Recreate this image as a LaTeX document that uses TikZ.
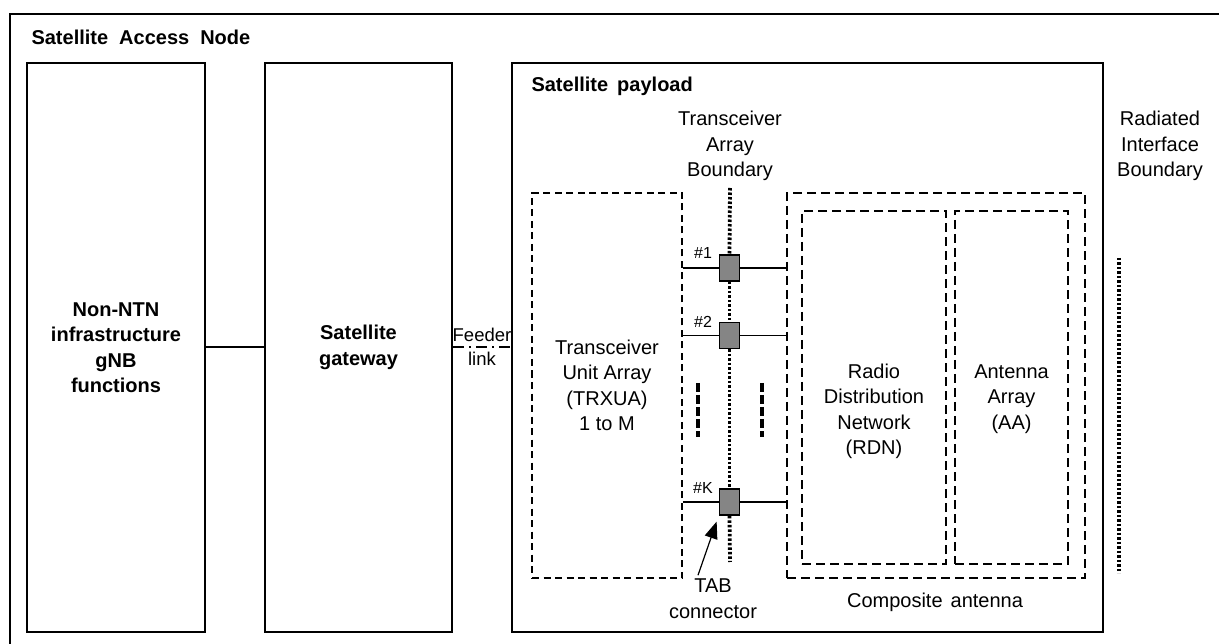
\documentclass[tikz,border=0pt]{standalone}
\usepackage{fontspec}
\setmainfont{Liberation Sans}
\usepackage{xcolor}
\usetikzlibrary{arrows.meta}
\definecolor{tabgray}{HTML}{858585}

\begin{document}
\begin{tikzpicture}[
        font = \fontsize{20}{25.5}\selectfont,
        solidbox/.style = {draw, rectangle, line width = 2pt, align = center, inner sep = 0pt},
        dashbox/.style = {draw, rectangle, line width = 2pt, dash pattern = on 7pt off 4.5pt, align = center, inner sep = 0pt},
        widedash/.style = {draw, rectangle, line width = 2.6pt, dash pattern = on 9pt off 5pt, align = center, inner sep = 0pt},
        tabbox/.style = {fill = tabgray, draw, rectangle, line width = 1.8pt, minimum width = 20pt, minimum height = 26pt, inner sep = 0pt},
        tabline/.style = {line width = 1.8pt},
        boundary/.style = {line width = 3.8pt, dash pattern = on 2.5pt off 2pt},
        gapmark/.style = {line width = 4.5pt, dash pattern = on 9pt off 3pt},
        bold/.style = {font = \fontsize{20}{25.5}\selectfont\bfseries},
        smalltext/.style = {font = \fontsize{16}{18}\selectfont}
    ]

        \useasboundingbox (0pt, 0pt) rectangle (1219pt, -644pt);
        \clip (0pt, 0pt) rectangle (1219pt, -644pt);

        % Satellite Access Node
        \node [solidbox, anchor = north west, minimum width = 1240pt, minimum height = 660pt] (san) at (9pt, -13pt) {};
        \node [bold, anchor = west] (santitle) at (28pt, -37pt) {\spaceskip = 11pt Satellite Access Node};

        \node [solidbox, bold, minimum width = 178pt, minimum height = 569pt] (ntn) at (116pt, -347.5pt) {Non-NTN\\infrastructure\\gNB\\functions};
        \node [solidbox, bold, minimum width = 187pt, minimum height = 569pt] (gw) at (358.5pt, -347.5pt) {Satellite\\gateway};
        \node [solidbox, minimum width = 591pt, minimum height = 569pt] (pay) at (807.5pt, -347.5pt) {};
        \node [bold, anchor = west] (paytitle) at (528pt, -86pt) {\spaceskip = 9pt Satellite payload};

        \draw [line width = 2pt] (ntn) -- (gw);
        \draw [line width = 2pt, dash pattern = on 11pt off 5pt on 2pt off 5pt] (gw) -- (pay)
            node [midway, above = 1pt, font = \fontsize{18.5}{22}\selectfont] (feedtop) {Feeder}
            node [midway, below = 0pt, font = \fontsize{18.5}{22}\selectfont] (feedbot) {link};

        % Payload blocks
        \node [dashbox, minimum width = 150pt, minimum height = 385pt] (trx) at (607pt, -385.5pt) {Transceiver\\Unit Array\\(TRXUA)\\1 to M};
        \node [widedash, minimum width = 298pt, minimum height = 385pt] (comp) at (936pt, -385.5pt) {};
        \node [widedash, minimum width = 144pt, minimum height = 353pt] (rdn) at (874pt, -387.5pt) {};
        \node [widedash, minimum width = 113pt, minimum height = 353pt] (aa) at (1011.5pt, -387.5pt) {};
        \node [align = center] (rdntxt) at ([yshift = -24pt]rdn.center) {Radio\\Distribution\\Network\\(RDN)};
        \node [align = center] (aatxt) at ([yshift = -11.5pt]aa.center) {Antenna\\Array\\(AA)};
        \node (comptxt) at (935pt, -602pt) {\spaceskip = 8pt Composite antenna};

        % Transceiver array boundary
        \node [align = center] (tabtitle) at (730pt, -146pt) {Transceiver\\Array\\Boundary};
        \coordinate (tabtop) at (730pt, -188pt);
        \coordinate (tabbot) at (730pt, -562pt);

        \node [tabbox] (c1) at (729.5pt, -268pt) {};
        \node [tabbox] (c2) at (729.5pt, -335.5pt) {};
        \node [tabbox] (ck) at (729.5pt, -502pt) {};

        \draw [boundary] (tabtop) -- (c1.north);
        \draw [boundary] (c1.south) -- (c2.north);
        \draw [boundary] (c2.south) -- (ck.north);
        \draw [boundary] (ck.south) -- (tabbot);

        \draw [tabline] (trx.east |- c1) -- (c1.west);
        \draw [tabline] (c1.east) -- (comp.west |- c1);
        \draw [tabline] (trx.east |- c2) -- (c2.west);
        \draw [tabline] (c2.east) -- (comp.west |- c2);
        \draw [tabline] (trx.east |- ck) -- (ck.west);
        \draw [tabline] (ck.east) -- (comp.west |- ck);

        \node [smalltext] (l1) at (703pt, -253pt) {\#1};
        \node [smalltext] (l2) at (703pt, -322pt) {\#2};
        \node [smalltext] (lk) at (703pt, -488pt) {\#K};

        % Gap marks
        \draw [gapmark] (698pt, -383pt) -- (698pt, -437pt);
        \draw [gapmark] (762pt, -383pt) -- (762pt, -437pt);

        % TAB connector
        \node [align = center] (tabtxt) at (713pt, -598.5pt) {TAB\\connector};
        \draw [-{Triangle[length = 17pt, width = 13pt]}, line width = 1.2pt, shorten > = 6pt] ([xshift = -15pt]tabtxt.north) -- (ck.south west);

        % Radiated interface boundary
        \node [align = center] (ribtitle) at (1160pt, -146pt) {Radiated\\Interface\\Boundary};
        \coordinate (ribtop) at (1119pt, -258pt);
        \coordinate (ribbot) at (1119pt, -573pt);
        \draw [boundary] (ribtop) -- (ribbot);

    \end{tikzpicture}
\end{document}
